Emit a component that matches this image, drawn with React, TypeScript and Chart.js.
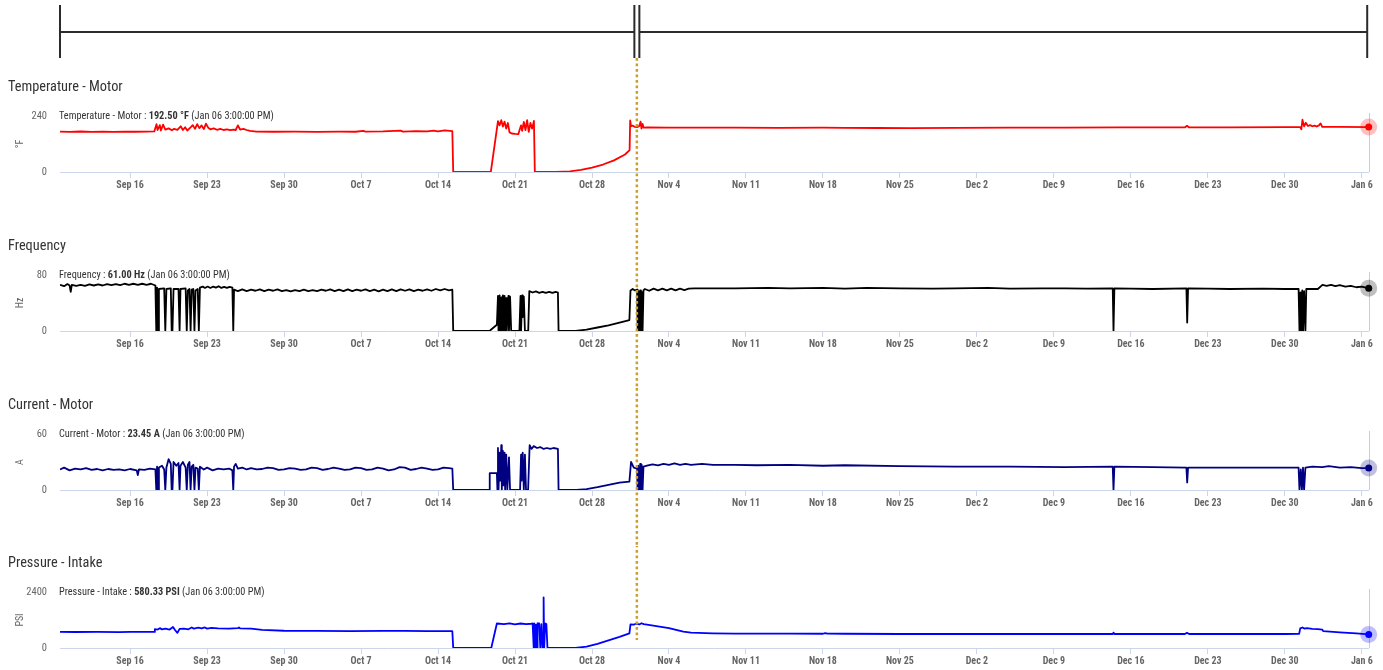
import React, { useEffect, useRef } from "react";
import { Chart, registerables } from "chart.js";

Chart.register(...registerables);

// x values are days since Sep 1 00:00 (Sep 16 = 15, Jan 6 = 127)
const START_DAY = 8.625; // Sep 9 3:00 PM
const END_DAY = 127.625; // Jan 6 3:00 PM
const EVENT_DAY = 61.08; // marker between the two periods (Nov 1)
const LAST_TIME_LABEL = "Jan 06 3:00:00 PM";

const tickDays = [15, 22, 29, 36, 43, 50, 57, 64, 71, 78, 85, 92, 99, 106, 113, 120, 127];
const tickLabels = [
  "Sep 16", "Sep 23", "Sep 30", "Oct 7", "Oct 14", "Oct 21", "Oct 28", "Nov 4",
  "Nov 11", "Nov 18", "Nov 25", "Dec 2", "Dec 9", "Dec 16", "Dec 23", "Dec 30", "Jan 6",
];

const temperatureMotor: [number, number][] = [
  [8.625, 173], [9.5, 172], [10.5, 173.5], [11.5, 172], [12.5, 173], [13.5, 172], [14.5, 173], [15.5, 172.5], [16.5, 173], [17.2, 174],
  [17.4, 205], [17.5, 180], [17.7, 201], [17.8, 178], [18.0, 203], [18.2, 182], [18.5, 187], [18.8, 179], [19.0, 185], [19.3, 181],
  [19.6, 196], [19.8, 180], [20.0, 192], [20.2, 178], [20.5, 191], [20.7, 201], [20.9, 185], [21.1, 205], [21.3, 188], [21.5, 200],
  [21.7, 184], [21.9, 207], [22.1, 190], [22.3, 183], [22.6, 187], [22.9, 181], [23.2, 185], [23.5, 180], [23.8, 183], [24.1, 179],
  [24.4, 182], [24.6, 180], [24.8, 200], [25.0, 182], [25.3, 185], [25.6, 180], [25.9, 176],
  [26.5, 173], [28, 172.5], [30, 173], [32, 172], [34, 173], [35.5, 172.5], [36.2, 176], [36.4, 173], [38, 174], [39.6, 177],
  [39.8, 173], [41, 175], [42, 174], [42.6, 177], [43, 174], [43.6, 178], [44.3, 175],
  [44.38, 0], [47.8, 0], [48.45, 218], [48.6, 200], [48.75, 222], [48.9, 195], [49.05, 216], [49.2, 186], [49.35, 210], [49.5, 170],
  [49.7, 165], [50.0, 163], [50.3, 162], [50.45, 185], [50.55, 200], [50.65, 176], [50.8, 215], [50.95, 180], [51.1, 222], [51.25, 172],
  [51.4, 210], [51.55, 186], [51.72, 219], [51.8, 0], [53.7, 0], [55, 3], [56, 9], [57, 19], [58, 32], [59, 50], [60, 75], [60.42, 94],
  [60.47, 221], [60.55, 196], [60.7, 199], [60.9, 193], [61.1, 192], [61.3, 197], [61.42, 216], [61.5, 186], [61.6, 206], [61.7, 190],
  [62, 191], [64, 190], [67, 190.5], [70, 190], [74, 189.5], [78, 190.5], [80, 189], [83, 188.5], [86, 188], [90, 189], [95, 190],
  [100, 190.5], [105, 191], [110.9, 191], [111.1, 198], [111.3, 191], [115, 191.5], [120, 192], [121.4, 192], [121.5, 183], [121.6, 224],
  [121.75, 196], [121.9, 211], [122.1, 197], [122.3, 201], [122.5, 196], [122.7, 199], [122.9, 195], [123.1, 200], [123.25, 208],
  [123.4, 193], [125, 193], [127.625, 192.5],
];

const frequency: [number, number][] = [
  [8.625, 66], [9.0, 64], [9.3, 67], [9.5, 65], [9.6, 56], [9.7, 66], [10.1, 64.5], [10.5, 66], [10.9, 64.5], [11.3, 66.5], [11.7, 65],
  [12.1, 66.5], [12.5, 65], [12.9, 67], [13.3, 65.5], [13.7, 67], [14.1, 65.5], [14.5, 67.5], [14.9, 66], [15.3, 67.5], [15.7, 66],
  [16.1, 67.5], [16.5, 66], [16.9, 67.5], [17.3, 65], [17.38, 0], [17.45, 62], [17.55, 0], [17.62, 60], [18.1, 61], [18.2, 0], [18.3, 60],
  [18.7, 61], [18.78, 0], [18.85, 0], [18.95, 60], [19.4, 60], [19.5, 0], [19.58, 60], [20.05, 61], [20.15, 0], [20.25, 58], [20.4, 60],
  [20.5, 0], [20.6, 59], [20.75, 60], [20.85, 0], [20.95, 58], [21.15, 60], [21.25, 0], [21.35, 62], [21.6, 63.5], [21.8, 61.5],
  [22.05, 63.5], [22.3, 61.5], [22.55, 63.5], [22.8, 62], [23.05, 64], [23.3, 61.5], [23.55, 63], [23.8, 61.5], [24.05, 63], [24.3, 62],
  [24.38, 0], [24.45, 59], [24.8, 57], [25.2, 59.5], [25.6, 57], [26, 59], [26.4, 57.5], [26.8, 59.5], [27.2, 57], [27.6, 59], [28, 57.5],
  [28.4, 59.5], [28.8, 57], [29.2, 58.5], [29.6, 56.5], [30, 58.5], [30.4, 57], [30.8, 59], [31.2, 57], [31.6, 58.5], [32, 57], [32.4, 59],
  [32.8, 57.5], [33.2, 59.5], [33.6, 57], [34, 59], [34.4, 57], [34.8, 59.5], [35.2, 57], [35.6, 59], [36, 57.5], [36.4, 59.5], [36.8, 57],
  [37.2, 59], [37.6, 56.5], [38, 59], [38.4, 57], [38.8, 59.5], [39.2, 57], [39.6, 59.5], [40, 57.5], [40.4, 59.5], [40.8, 57], [41.2, 59],
  [41.6, 57.5], [42, 59.5], [42.4, 57.5], [42.8, 60], [43.2, 58], [43.6, 60], [44, 58], [44.3, 59], [44.38, 0], [47.68, 0], [48.35, 9],
  [48.45, 50], [48.5, 0], [48.6, 51], [48.65, 0], [48.75, 48], [48.8, 0], [48.9, 51], [48.95, 0], [49.05, 50], [49.1, 0], [49.2, 47],
  [49.25, 0], [49.4, 50], [49.45, 0], [49.55, 49], [49.65, 0], [50.4, 0], [50.5, 50], [50.55, 0], [50.65, 51], [50.7, 20], [50.8, 49],
  [50.9, 0], [51.2, 0], [51.3, 57], [51.6, 55], [51.9, 56.5], [52.2, 54.5], [52.5, 56], [52.8, 54.5], [53.1, 56], [53.4, 54.5], [53.7, 56],
  [53.9, 55], [53.96, 0], [55.5, 0], [56.5, 2], [57.5, 5], [58.5, 8], [59.5, 12], [60.4, 15.7], [60.5, 58], [60.7, 60], [60.9, 58],
  [61.1, 59], [61.15, 0], [61.22, 57], [61.3, 0], [61.38, 58], [61.45, 0], [61.52, 56], [61.6, 0], [61.68, 58], [61.8, 60], [62.2, 57.5],
  [62.6, 60.5], [63, 58], [63.4, 60.5], [63.8, 58], [64.2, 60.5], [64.6, 58], [65, 60.5], [65.4, 58.5], [65.8, 60.5], [66.3, 61], [67, 61],
  [70, 61], [73, 61.5], [75, 61], [78, 61.5], [80, 60.5], [82, 61.5], [85, 61], [88, 60.5], [90, 61], [93, 61.5], [95, 60.5], [98, 61],
  [100, 61], [102, 60.5], [104.35, 61], [104.42, 0], [104.5, 61], [106, 60.5], [108, 60], [111.05, 61], [111.12, 12], [111.2, 61],
  [113, 60.5], [115, 60], [118, 60.5], [120, 60], [121.25, 60], [121.33, 0], [121.42, 55], [121.5, 0], [121.58, 58], [121.66, 0],
  [121.75, 57], [121.87, 0], [121.95, 60], [123, 60], [123.42, 66], [123.8, 64.5], [124.2, 66], [124.6, 64], [125, 65.5], [125.5, 63.5],
  [126, 64.5], [126.5, 62.5], [127, 63.5], [127.625, 61],
];

const currentMotor: [number, number][] = [
  [8.625, 22], [9, 24], [9.5, 21], [10, 23], [10.5, 22], [11, 23.5], [11.5, 21.5], [12, 22.5], [12.5, 21], [13, 22.5], [13.5, 21.5],
  [14, 22], [14.5, 21], [15, 22.5], [15.6, 21], [15.7, 16], [15.8, 22], [16.3, 21.5], [16.8, 23], [17.3, 22], [17.38, 0], [17.45, 25],
  [17.55, 0], [17.62, 24], [17.9, 26], [18.1, 22], [18.2, 0], [18.3, 24], [18.5, 33], [18.7, 28], [18.78, 0], [18.85, 0], [18.95, 30],
  [19.2, 26], [19.4, 29], [19.5, 0], [19.58, 26], [19.8, 30], [20.05, 24], [20.15, 0], [20.25, 27], [20.4, 30], [20.5, 0], [20.6, 25],
  [20.75, 27], [20.85, 0], [20.95, 24], [21.15, 23], [21.25, 0], [21.35, 25], [21.7, 22], [22.0, 24], [22.5, 21], [23, 23], [23.5, 22],
  [24, 23], [24.3, 21], [24.38, 0], [24.45, 25], [24.6, 28], [24.8, 23], [25.2, 24], [25.6, 22], [26, 23.5], [26.5, 22], [27, 22.5],
  [27.5, 24], [28, 23.5], [28.5, 21.5], [29, 22], [29.5, 23.5], [30, 23], [30.5, 21.5], [31, 22], [31.5, 24], [32, 23.5], [32.5, 21.5],
  [33, 22.5], [33.5, 24], [34, 23], [34.5, 21.5], [35, 22], [35.5, 24], [36, 23.5], [36.5, 21.5], [37, 22], [37.5, 24], [38, 23],
  [38.5, 21], [39, 22], [39.5, 24.5], [40, 24], [40.5, 21.5], [41, 22.5], [41.5, 24], [42, 23], [42.5, 21.5], [43, 22], [43.5, 24],
  [44, 23.5], [44.3, 23], [44.38, 0], [47.68, 0], [47.7, 18], [48.35, 18], [48.4, 0], [48.45, 45],
  [48.5, 0], [48.6, 40], [48.65, 10], [48.75, 48], [48.8, 0], [48.9, 42], [48.95, 5], [49.05, 40], [49.1, 0], [49.2, 38], [49.3, 0],
  [49.45, 35], [49.55, 0], [50.46, 0], [50.55, 38], [50.6, 10], [50.7, 40], [50.8, 0], [50.9, 38], [51.0, 0], [51.19, 0], [51.33, 48],
  [51.5, 44], [51.7, 47], [52, 45], [52.3, 46], [52.6, 44], [52.9, 45], [53.2, 44], [53.5, 45], [53.9, 44], [53.96, 0], [55.57, 0],
  [56.5, 1], [57.5, 3], [58.5, 5.5], [59.5, 8], [60.4, 9], [60.55, 30], [60.8, 24], [61.1, 23], [61.14, 0], [61.2, 26], [61.3, 0],
  [61.38, 28], [61.45, 0], [61.52, 27], [61.6, 0], [61.68, 25], [62, 26], [62.5, 27.5], [63, 26.5], [63.5, 28], [64, 27], [64.5, 28.5],
  [65, 27], [65.5, 28], [66, 27], [67, 28], [68, 27], [70, 27], [72, 26.5], [75, 27], [78, 26], [80, 26.5], [85, 25.5], [90, 25],
  [95, 25], [100, 24.5], [104.35, 25], [104.42, 0], [104.5, 25], [108, 24.5], [111.05, 24], [111.12, 8], [111.2, 24], [115, 24], [120, 24],
  [121.25, 24], [121.33, 0], [121.45, 22], [121.55, 0], [121.65, 24], [121.75, 0], [121.87, 24], [122.5, 25], [123.4, 24.5], [124, 25.5],
  [125, 24], [126, 24.5], [127, 23.5], [127.625, 23.45],
];

const pressureIntake: [number, number][] = [
  [8.625, 690], [10, 685], [12, 690], [14, 680], [15, 690], [17.2, 690], [17.25, 810], [17.5, 790], [17.7, 850], [17.9, 800],
  [18.2, 830], [18.6, 790], [18.9, 900], [19.1, 760], [19.3, 650], [19.5, 820], [19.9, 830], [20.3, 800], [20.6, 880], [20.8, 830],
  [21.2, 870], [21.5, 840], [21.8, 880], [22.0, 830], [22.4, 860], [23, 840], [24, 830], [24.8, 850], [24.9, 880], [25.0, 840],
  [26, 830], [27, 780], [29, 740], [32, 730], [35, 725], [38, 730], [40, 735], [42, 720], [44.3, 720], [44.38, 0], [47.84, 0],
  [48.35, 1050], [49, 1020], [49.5, 1060], [50, 1010], [50.5, 1050], [51, 1020], [51.5, 1040], [51.6, 1050], [51.7, 0], [51.75, 1050],
  [51.85, 0], [51.9, 1000], [52.0, 0], [52.05, 1060], [52.2, 1050], [52.3, 0], [52.4, 1020], [52.5, 0], [52.55, 0], [52.6, 2170],
  [52.65, 0], [52.75, 1050], [52.85, 1030], [52.95, 0], [55.5, 0], [56.5, 60], [57.5, 180], [58.5, 330], [59.5, 480], [60.4, 630],
  [60.5, 1014], [60.8, 1000], [61.0, 1040], [61.3, 1010], [61.5, 1060], [61.7, 1020], [62, 1000], [63, 930], [64, 850], [65.3, 700],
  [66, 660], [68, 630], [70, 620], [75, 620], [78, 610], [78.2, 640], [78.4, 615], [80, 610], [85, 600], [90, 600], [95, 600],
  [100, 600], [104.35, 600], [104.42, 660], [104.5, 600], [110.9, 600], [111.1, 650], [111.3, 600], [115, 600], [120, 600],
  [121.3, 605], [121.4, 840], [121.6, 880], [121.8, 830], [122, 850], [122.5, 820], [123, 810], [123.4, 790], [123.5, 720],
  [125, 670], [126.5, 630], [127.625, 580.33],
];

const COND_FONT = "'Roboto Condensed', 'Liberation Sans Narrow', 'Arial Narrow', 'DejaVu Sans Condensed', Roboto, sans-serif";

type PanelCfg = {
  title: string;
  unit: string;
  max: number;
  color: string;
  halo: string;
  points: [number, number][];
};

const panels: PanelCfg[] = [
  { title: "Temperature - Motor", unit: "°F", max: 240, color: "#ff0000", halo: "rgba(255,0,0,0.25)", points: temperatureMotor },
  { title: "Frequency", unit: "Hz", max: 80, color: "#000000", halo: "rgba(0,0,0,0.25)", points: frequency },
  { title: "Current - Motor", unit: "A", max: 60, color: "#000080", halo: "rgba(0,0,128,0.25)", points: currentMotor },
  { title: "Pressure - Intake", unit: "PSI", max: 2400, color: "#0000ff", halo: "rgba(0,0,255,0.25)", points: pressureIntake },
];

const PAGE_W = 1383;
const PLOT_TOPS = [116, 275, 434, 592];
const PLOT_H = 56;
const CANVAS_TOPS = [0, 229, 388, 546];
const CANVAS_BOTTOMS = [229, 388, 546, 670];
const DOT_Y_START = 58;
const DOT_Y_END = 640;

function makeOverlay(i: number, cfg: PanelCfg) {
  const canvasTop = CANVAS_TOPS[i];
  return {
    id: "overlay" + i,
    beforeDatasetsDraw(chart: any) {
      const { ctx, chartArea, scales } = chart;
      const last = cfg.points[cfg.points.length - 1];
      const x = scales.x.getPixelForValue(last[0]);
      ctx.save();
      ctx.strokeStyle = "#cccccc";
      ctx.lineWidth = 1;
      ctx.beginPath();
      ctx.moveTo(Math.round(x) + 0.5, chartArea.top - 3);
      ctx.lineTo(Math.round(x) + 0.5, chartArea.bottom);
      ctx.stroke();
      ctx.restore();
    },
    afterDraw(chart: any) {
      const { ctx, chartArea, scales } = chart;
      const xs = scales.x;
      const last = cfg.points[cfg.points.length - 1];
      ctx.save();
      // inline value label
      const y = chartArea.top + 0.5;
      let x = chartArea.left - 1;
      ctx.textBaseline = "middle";
      ctx.textAlign = "left";
      ctx.fillStyle = "#333333";
      const normal = `10.3px ${COND_FONT}`;
      const bold = `bold 10.3px ${COND_FONT}`;
      const parts: [string, string][] = [
        [cfg.title + " : ", normal],
        [last[1].toFixed(2) + " " + cfg.unit, bold],
        [" (" + LAST_TIME_LABEL + ")", normal],
      ];
      for (const [t, f] of parts) {
        ctx.font = f;
        ctx.fillText(t, x, y);
        x += ctx.measureText(t).width;
      }
      // dotted event line
      const ex = xs.getPixelForValue(EVENT_DAY);
      const y0 = Math.max(DOT_Y_START, canvasTop) - canvasTop;
      const y1 = Math.min(DOT_Y_END, CANVAS_BOTTOMS[i]) - canvasTop;
      ctx.strokeStyle = "#c9a02c";
      ctx.lineWidth = 2.5;
      ctx.setLineDash([2.75, 2.75]);
      ctx.lineDashOffset = -(Math.max(DOT_Y_START, canvasTop) - DOT_Y_START);
      ctx.beginPath();
      ctx.moveTo(ex, y0);
      ctx.lineTo(ex, y1);
      ctx.stroke();
      ctx.setLineDash([]);
      // top bracket
      if (i === 0) {
        const l = xs.getPixelForValue(START_DAY);
        const r = xs.getPixelForValue(END_DAY) - 1.5;
        const m1 = ex - 2.5;
        const m2 = ex + 2.5;
        ctx.strokeStyle = "#2b2b2b";
        ctx.lineWidth = 2;
        ctx.beginPath();
        for (const vx of [l, m1, m2, r]) {
          ctx.moveTo(vx, 5);
          ctx.lineTo(vx, 58);
        }
        ctx.moveTo(l, 32);
        ctx.lineTo(m1, 32);
        ctx.moveTo(m2, 32);
        ctx.lineTo(r, 32);
        ctx.stroke();
      }
      ctx.restore();
    },
  };
}

export default function App() {
  const refs = [useRef<HTMLCanvasElement>(null), useRef<HTMLCanvasElement>(null), useRef<HTMLCanvasElement>(null), useRef<HTMLCanvasElement>(null)];

  useEffect(() => {
    const charts: Chart[] = [];
    panels.forEach((cfg, i) => {
      const canvas = refs[i].current;
      if (!canvas) return;
      const canvasTop = CANVAS_TOPS[i];
      const h = CANVAS_BOTTOMS[i] - canvasTop;
      const plotTopRel = PLOT_TOPS[i] - canvasTop;
      const padTop = plotTopRel - 46;
      const xAxisH = h - (plotTopRel + PLOT_H);
      const last = cfg.points[cfg.points.length - 1];
      const chart = new Chart(canvas, {
        type: "line",
        data: {
          datasets: [
            {
              data: [{ x: last[0], y: last[1] }],
              showLine: false,
              pointRadius: 3.5,
              pointBackgroundColor: cfg.color,
              pointBorderWidth: 0,
              clip: false as any,
              order: 0,
            },
            {
              data: cfg.points.map(([x, y]) => ({ x, y })),
              borderColor: cfg.color,
              borderWidth: 1.8,
              pointRadius: 0,
              tension: 0,
              fill: false,
              borderJoinStyle: "round",
              order: 2,
            },
            {
              data: [{ x: last[0], y: last[1] }],
              showLine: false,
              pointRadius: 8.5,
              pointBackgroundColor: cfg.halo,
              pointBorderWidth: 0,
              clip: false as any,
              order: 3,
            },
          ],
        },
        options: {
          animation: false,
          responsive: false,
          maintainAspectRatio: false,
          events: [],
          layout: { padding: { top: padTop, left: 8, right: 14.3, bottom: 0 } },
          plugins: {
            legend: { display: false },
            tooltip: { enabled: false },
            title: {
              display: true,
              text: cfg.title,
              align: "start",
              color: "#333333",
              font: { family: COND_FONT, size: 14.3, weight: "normal", lineHeight: 1.2 },
              padding: { top: 9.1, bottom: 19.74 },
            },
          },
          scales: {
            x: {
              type: "linear",
              min: START_DAY,
              max: END_DAY,
              afterBuildTicks: (s: any) => {
                s.ticks = tickDays.map((v) => ({ value: v }));
              },
              afterFit: (s: any) => {
                s.height = xAxisH;
              },
              ticks: {
                autoSkip: false,
                maxRotation: 0,
                padding: 1,
                color: "#666666",
                font: { family: COND_FONT, size: 10, weight: "bold" },
                callback: (_v: any, idx: number) => tickLabels[idx],
              },
              grid: { drawOnChartArea: false, drawTicks: true, tickLength: 6, color: "#ccd6eb" },
              border: { display: true, color: "#ccd6eb", width: 1 },
            },
            y: {
              min: 0,
              max: cfg.max,
              afterBuildTicks: (s: any) => {
                s.ticks = [{ value: 0 }, { value: cfg.max }];
              },
              afterFit: (s: any) => {
                s.width = 52;
              },
              ticks: {
                padding: 13,
                color: "#666666",
                font: { family: COND_FONT, size: 10.5 },
                callback: (v: any) => String(v),
              },
              grid: { display: false, drawTicks: false, tickLength: 0 },
              border: { display: false },
              title: {
                display: true,
                text: cfg.unit,
                color: "#666666",
                font: { family: COND_FONT, size: 10 },
                padding: { top: 6, bottom: 0 },
              },
            },
          },
        } as any,
        plugins: [makeOverlay(i, cfg)],
      });
      charts.push(chart);
    });
    return () => charts.forEach((c) => c.destroy());
  }, []);

  return (
    <div style={{ position: "absolute", left: 0, top: 0, width: PAGE_W, height: 670, overflow: "hidden", background: "#fff" }}>
      {panels.map((_, i) => (
        <canvas
          key={i}
          ref={refs[i]}
          width={PAGE_W}
          height={CANVAS_BOTTOMS[i] - CANVAS_TOPS[i]}
          style={{
            position: "absolute",
            left: 0,
            top: CANVAS_TOPS[i],
            width: PAGE_W,
            height: CANVAS_BOTTOMS[i] - CANVAS_TOPS[i],
            display: "block",
          }}
        />
      ))}
    </div>
  );
}
